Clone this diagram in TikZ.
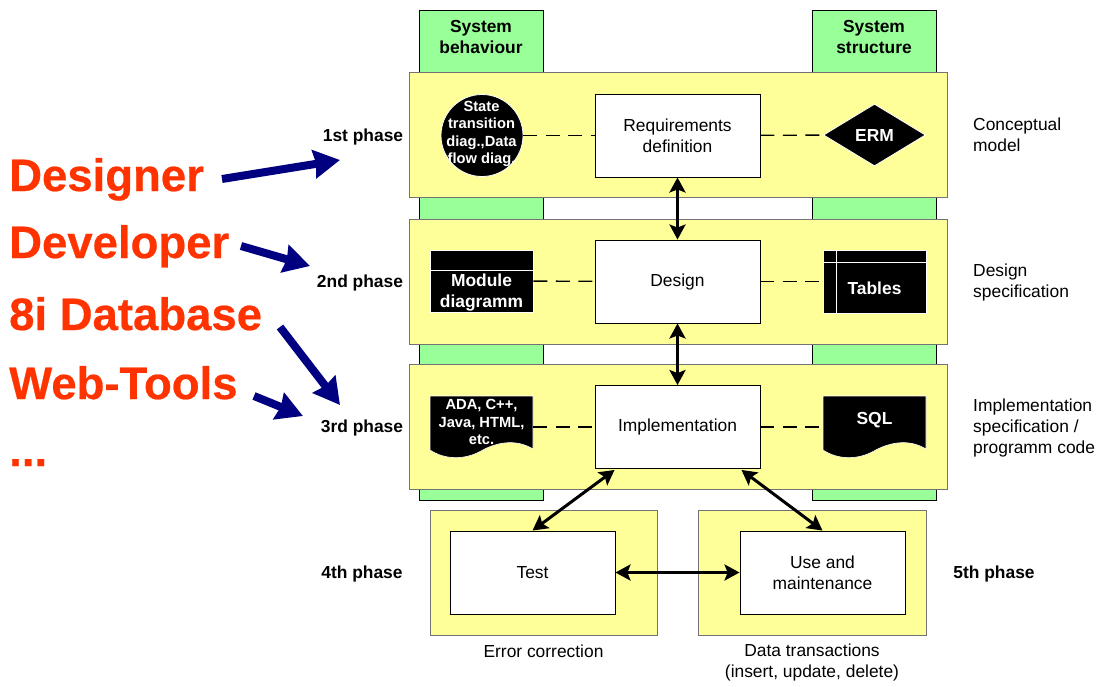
\documentclass[tikz,border=0pt]{standalone}
\usepackage{fontspec}
\setmainfont{Liberation Sans}
\newfontfamily\toolfont[BoldFeatures={FakeBold=0.5}]{Liberation Sans}
\usetikzlibrary{arrows.meta,shapes.geometric}
\definecolor{bandyellow}{HTML}{FFFF99}
\definecolor{bargreen}{HTML}{99FF99}
\definecolor{toolred}{HTML}{FF3300}
\definecolor{toolblue}{HTML}{000080}
\tikzset{
  greenbar/.style={draw=black,line width=1pt,fill=bargreen},
  band/.style={draw=black!55,line width=0.9pt,fill=bandyellow,inner sep=0pt},
  taskbox/.style={draw=black,line width=0.9pt,fill=white,inner sep=0pt,minimum width=165pt,minimum height=83pt,align=center,font=\fontsize{17.4}{21}\selectfont},
  blackshape/.style={draw=white,line width=0.8pt,fill=black,text=white,inner sep=0pt,align=center},
  whitetext/.style={text=white,inner sep=0pt,align=center,font=\bfseries\fontsize{17.4}{21}\selectfont},
  smallwhite/.style={text=white,inner sep=0pt,align=center,font=\bfseries\fontsize{14.7}{17.6}\selectfont},
  phaselabel/.style={inner sep=0pt,font=\bfseries\fontsize{17.4}{18}\selectfont},
  sidenote/.style={inner sep=0pt,anchor=west,align=left,font=\fontsize{17.4}{21}\selectfont},
  undernote/.style={inner sep=0pt,align=center,font=\fontsize{17.4}{21}\selectfont},
  toolname/.style={inner sep=0pt,anchor=base west,text=toolred,font=\toolfont\bfseries\fontsize{45.5}{50}\selectfont},
  bartitle/.style={inner sep=0pt,align=center,font=\bfseries\fontsize{17.4}{20.5}\selectfont},
  link/.style={line width=1.4pt,black,dash pattern=on 14pt off 8.5pt},
  flow/.style={line width=3pt,{Stealth[length=15pt,width=16pt,inset=3pt]}-{Stealth[length=15pt,width=16pt,inset=3pt]}},
  toolarrow/.style={line width=8pt,toolblue,-{Stealth[length=26pt,width=28pt,inset=2pt]}}
}
\begin{document}
\begin{tikzpicture}[x=1pt,y=-1pt,line join=miter]
\useasboundingbox (0,0) rectangle (1098,686);
% green bars
\draw[greenbar] (419,10) rectangle (543,500);
\draw[greenbar] (812,10) rectangle (936,500);
\node[bartitle] (behaviour) at (481,37) {System\\behaviour};
\node[bartitle] (structure) at (874,37) {System\\structure};
% yellow bands
\foreach \name/\top in {bandone/72,bandtwo/219,bandthree/364}
{
\draw[band] (409,\top) rectangle (947,\top+125);
}
\draw[band] (430,510) rectangle (657,635);
\draw[band] (698,510) rectangle (926,635);
% main boxes
\node[taskbox] (req) at (677.5,135.5) {Requirements\\definition};
\node[taskbox] (design) at (677.5,281.5) {Design};
\node[taskbox] (impl) at (677.5,427) {Implementation};
\node[taskbox] (test) at (532.5,572.5) {Test};
\node[taskbox] (use) at (822.5,572.5) {Use and\\maintenance};
% black shapes, phase 1
\node[blackshape,circle,minimum size=82pt] (state) at (482,135.5) {};
\node[smallwhite] (statetext) at (481.5,134) {State\\transition\\diag.,Data\\flow diag.};
\node[blackshape,diamond,minimum width=102pt,minimum height=62pt] (erm) at (874.5,135) {};
\node[whitetext] (ermtext) at (874.5,136) {ERM};
% phase 2
\node[blackshape,minimum width=103pt,minimum height=62pt] (module) at (481.5,281) {};
\draw[white,line width=1pt] (module.west |- 0,270) -- (module.east |- 0,270);
\node[whitetext] (moduletext) at (481.5,293) {Module\\diagramm};
\node[blackshape,minimum width=103pt,minimum height=63pt] (tables) at (874.5,281.5) {};
\draw[white,line width=1pt] (tables.west |- 0,262) -- (tables.east |- 0,262);
\draw[white,line width=1pt] (836,250) -- (836,313);
\node[whitetext] (tablestext) at (874.5,288) {Tables};
% phase 3
\fill[black,draw=white,line width=0.6pt] (430,396) -- (533,396) -- (533,449) .. controls (515,438) and (495,443) .. (481,451) .. controls (465,460) and (445,460) .. (430,450) -- cycle;
\node[inner sep=0pt,minimum width=103pt,minimum height=62pt] (ada) at (481.5,427) {};
\node[smallwhite] (adatext) at (481.5,422) {ADA, C++,\\Java, HTML,\\etc.};
\fill[black,draw=white,line width=0.6pt] (823,396) -- (926,396) -- (926,449) .. controls (908,438) and (888,443) .. (874,451) .. controls (858,460) and (838,460) .. (823,450) -- cycle;
\node[inner sep=0pt,minimum width=103pt,minimum height=62pt] (sql) at (874.5,427) {};
\node[whitetext] (sqltext) at (874.5,420) {SQL};
% dashed links
\draw[link] (state) -- (req);
\draw[link] (req) -- (erm);
\draw[link] (module) -- (design);
\draw[link] (design) -- (tables);
\draw[link] (ada) -- (impl);
\draw[link] (impl) -- (sql);
% flow arrows
\draw[flow] (req.south) -- (design.north);
\draw[flow] (design.south) -- (impl.north);
\draw[flow] ([xshift=20pt,yshift=-1pt]impl.south west) -- (test.north);
\draw[flow] ([xshift=-19pt,yshift=-1pt]impl.south east) -- (use.north);
\draw[flow] (test) -- (use);
% phase labels
\node[phaselabel] (first) at (363,137) {1st phase};
\node[phaselabel] (second) at (360,283) {2nd phase};
\node[phaselabel] (third) at (362,428) {3rd phase};
\node[phaselabel] (fourth) at (362,574) {4th phase};
\node[phaselabel] (fifth) at (994,574) {5th phase};
% notes
\node[sidenote] (conceptual) at (973,135) {Conceptual\\model};
\node[sidenote] (specification) at (973,282) {Design\\specification};
\node[sidenote] (code) at (973,428) {Implementation\\specification /\\programm code};
\node[undernote] (correction) at (543.5,651) {Error correction};
\node[undernote] (transactions) at (812,662) {Data transactions\\(insert, update, delete)};
% tools
\node[toolname] (designer) at (9,191) {Designer};
\node[toolname] (developer) at (9,258) {Developer};
\node[toolname] (database) at (9,330) {8i Database};
\node[toolname] (webtools) at (9,399) {Web-Tools};
\node[toolname] (dots) at (9,466) {...};
\coordinate (aimone) at (340,160);
\coordinate (aimtwo) at (310,266);
\coordinate (aimthree) at (340,405);
\coordinate (aimfour) at (303,416);
\draw[toolarrow] (222,179) -- (aimone);
\draw[toolarrow] (241,246) -- (aimtwo);
\draw[toolarrow] (280,327) -- (aimthree);
\draw[toolarrow] (254,396) -- (aimfour);
\end{tikzpicture}
\end{document}
